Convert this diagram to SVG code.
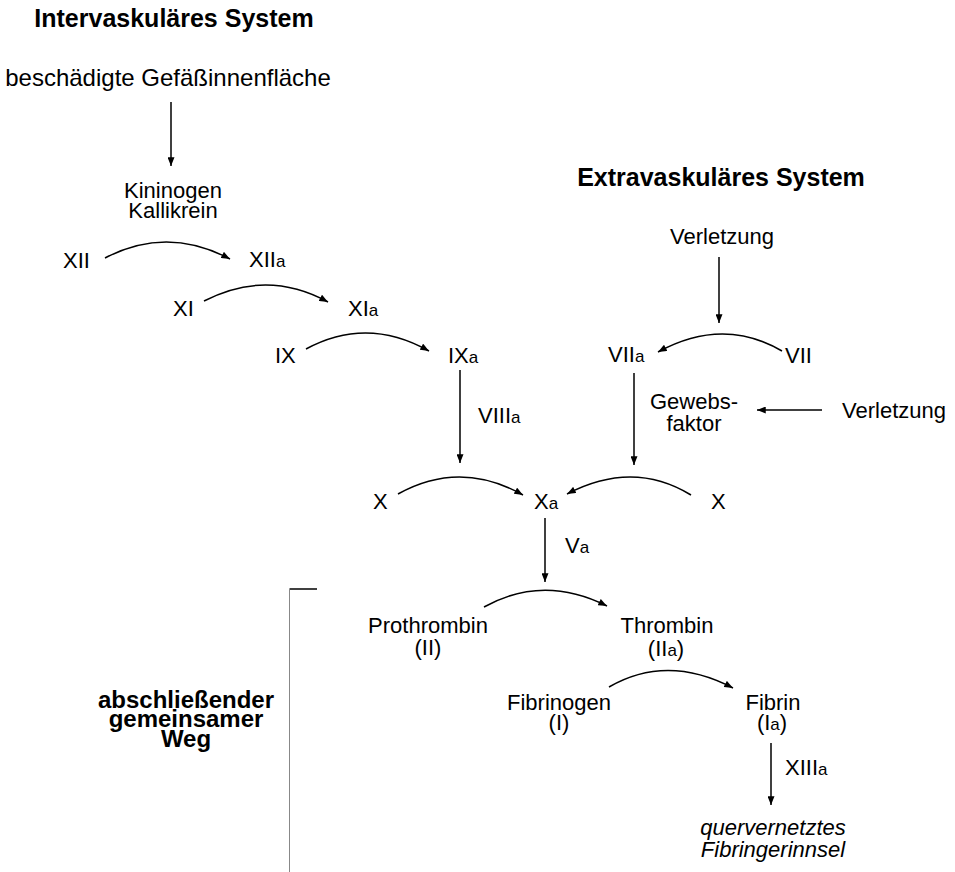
<svg xmlns="http://www.w3.org/2000/svg" width="955" height="872" viewBox="0 0 955 872">
<style>
text{font-family:"Liberation Sans",Arial,sans-serif;fill:#000;font-size:22px}
.t{font-weight:bold;font-size:25px}
.b{font-weight:bold;font-size:24px}
.big{font-size:24px}
.s{font-size:17px}
.i{font-style:italic}
.c{text-anchor:middle}
.ln{fill:none;stroke:#000;stroke-width:1.5}
</style>
<defs>
<marker id="ah" viewBox="0 0 10 8" refX="10" refY="4" markerWidth="9" markerHeight="7" orient="auto" markerUnits="userSpaceOnUse">
<path d="M0,0 L10,4 L0,8 z" fill="#000"/>
</marker>
</defs>
<rect width="955" height="872" fill="#fff"/>

<g id="titles">
<text class="t c" x="174" y="27">Intervaskuläres System</text>
<text class="t c" x="721" y="186">Extravaskuläres System</text>
<text class="b c" x="186" y="708">abschließender</text>
<text class="b c" x="186" y="727">gemeinsamer</text>
<text class="b c" x="186" y="747">Weg</text>
</g>

<g id="n-gefaess"><text class="big c" x="168" y="86">beschädigte Gefäßinnenfläche</text></g>
<g id="n-kinin"><text class="c" x="173" y="198">Kininogen</text><text class="c" x="173" y="218">Kallikrein</text></g>
<g id="n-XII"><text x="63" y="268">XII</text></g>
<g id="n-XIIa"><text x="249" y="267">XII<tspan class="s">a</tspan></text></g>
<g id="n-XI"><text x="173" y="316">XI</text></g>
<g id="n-XIa"><text x="348" y="316">XI<tspan class="s">a</tspan></text></g>
<g id="n-IX"><text x="275" y="363">IX</text></g>
<g id="n-IXa"><text x="448" y="363">IX<tspan class="s">a</tspan></text></g>
<g id="n-VIIIa"><text x="478" y="423">VIII<tspan class="s">a</tspan></text></g>
<g id="n-verl1"><text class="c" x="722" y="244">Verletzung</text></g>
<g id="n-VIIa"><text x="608" y="362">VII<tspan class="s">a</tspan></text></g>
<g id="n-VII"><text x="785" y="363">VII</text></g>
<g id="n-gewebs"><text class="c" x="694" y="409">Gewebs-</text><text class="c" x="694" y="431">faktor</text></g>
<g id="n-verl2"><text x="842" y="418">Verletzung</text></g>
<g id="n-X1"><text x="373" y="509">X</text></g>
<g id="n-Xa"><text x="534" y="509">X<tspan class="s">a</tspan></text></g>
<g id="n-X2"><text x="711" y="509">X</text></g>
<g id="n-Va"><text x="565" y="553">V<tspan class="s">a</tspan></text></g>
<g id="n-prothrombin"><text class="c" x="428" y="633">Prothrombin</text><text class="c" x="428" y="655">(II)</text></g>
<g id="n-thrombin"><text class="c" x="667" y="633">Thrombin</text><text class="c" x="666" y="656">(II<tspan class="s">a</tspan>)</text></g>
<g id="n-fibrinogen"><text class="c" x="559" y="710">Fibrinogen</text><text class="c" x="559" y="730">(I)</text></g>
<g id="n-fibrin"><text class="c" x="773" y="710">Fibrin</text><text class="c" x="772" y="730">(I<tspan class="s">a</tspan>)</text></g>
<g id="n-XIIIa"><text x="785" y="775">XIII<tspan class="s">a</tspan></text></g>
<g id="n-gerinnsel"><text class="i c" x="773" y="835">quervernetztes</text><text class="i c" x="773" y="857">Fibringerinnsel</text></g>

<g id="connectors" class="ln">
<path class="ln" d="M171,102 L171,166" marker-end="url(#ah)"/>
<path class="ln" d="M105,258 Q167,225.5 230,259" marker-end="url(#ah)"/>
<path class="ln" d="M204,301 Q267,268.5 328,302" marker-end="url(#ah)"/>
<path class="ln" d="M306,349 Q367,316 429,351" marker-end="url(#ah)"/>
<path class="ln" d="M719,257 L719,323" marker-end="url(#ah)"/>
<path class="ln" d="M782,351 Q723,316.5 658,352" marker-end="url(#ah)"/>
<path class="ln" d="M460,370 L460,463" marker-end="url(#ah)"/>
<path class="ln" d="M634,373 L634,465" marker-end="url(#ah)"/>
<path class="ln" d="M822,410 L757,410" marker-end="url(#ah)"/>
<path class="ln" d="M398,494 Q460,459.5 523,495" marker-end="url(#ah)"/>
<path class="ln" d="M691,495 Q633,459.5 567,494" marker-end="url(#ah)"/>
<path class="ln" d="M545,518 L545,582" marker-end="url(#ah)"/>
<path class="ln" d="M484,607 Q543,574 607,606" marker-end="url(#ah)"/>
<path class="ln" d="M609,687 Q667,653.5 733,688" marker-end="url(#ah)"/>
<path class="ln" d="M771,743 L771,805" marker-end="url(#ah)"/>
<path d="M317,589 L289.5,589" stroke="#000" stroke-width="1.5" fill="none"/>
<path d="M289.5,589 L289.5,872" stroke="#888" stroke-width="1" fill="none"/>
</g>
</svg>
